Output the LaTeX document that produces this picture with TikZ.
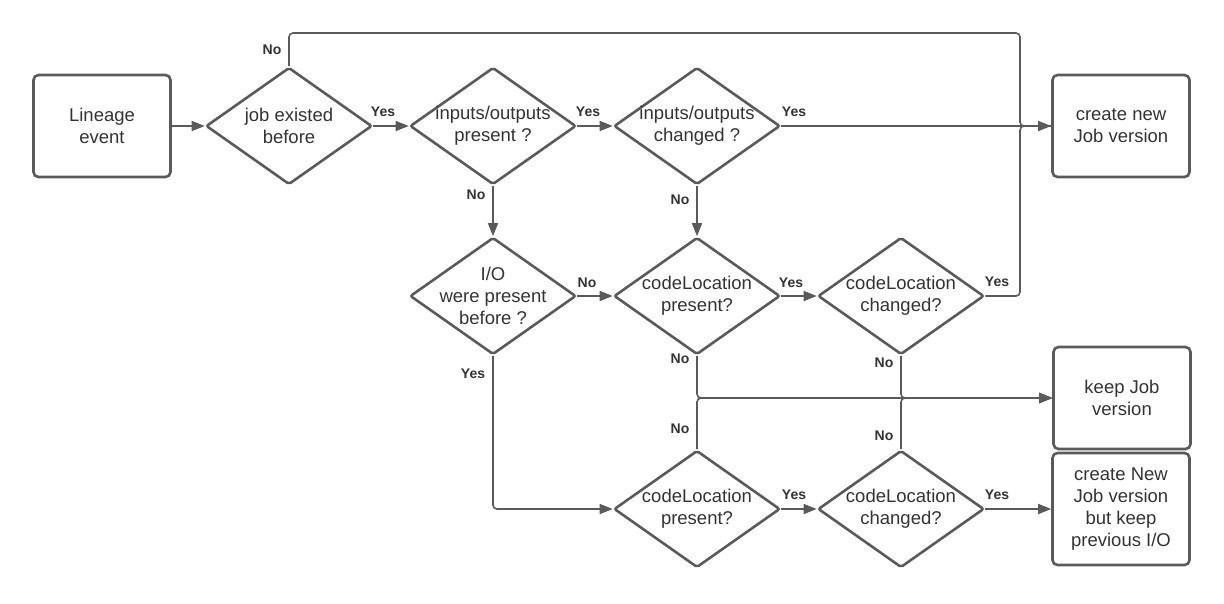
\documentclass[tikz,border=0pt]{standalone}
\usepackage{fontspec}
\setmainfont{Liberation Sans}
\usetikzlibrary{shapes.geometric,arrows.meta}
\definecolor{edge}{HTML}{5A5A5A}
\definecolor{txt}{HTML}{333333}
\begin{document}
\begin{tikzpicture}[x=1pt,y=-1pt,
  box/.style={draw=edge,line width=2.6pt,rounded corners=5pt,minimum width=137pt,minimum height=102pt,align=center,font=\fontsize{18.5}{22}\selectfont,text=txt,inner sep=0pt},
  dec/.style={diamond,draw=edge,line width=2.6pt,minimum width=166pt,minimum height=117pt,inner sep=-40pt,align=center,font=\fontsize{18.5}{22}\selectfont,text=txt,rounded corners=2pt},
  conn/.style={draw=edge,line width=1.6pt,rounded corners=4pt},
  arr/.style={conn,-{Triangle[length=13pt,width=10pt]}},
  lab/.style={font=\bfseries\fontsize{14}{16}\selectfont,text=txt,inner sep=0pt}]
\useasboundingbox (0,0) rectangle (1224,603);

\node[box] (le) at (102,126) {Lineage\\event};
\node[dec] (d1) at (289,126) {job existed\\before};
\node[dec] (d2) at (493,126) {inputs/outputs\\present ?};
\node[dec] (d3) at (697,126) {inputs/outputs\\changed ?};
\node[box] (cn) at (1121,126) {create new\\Job version};
\node[dec] (io) at (493,296) {I/O\\were present\\before ?};
\node[dec] (cp1) at (697,296) {codeLocation\\present?};
\node[dec] (cc1) at (901,296) {codeLocation\\changed?};
\node[box] (kj) at (1122,398) {keep Job\\version};
\node[dec] (cp2) at (697,509) {codeLocation\\present?};
\node[dec] (cc2) at (901,509) {codeLocation\\changed?};
\node[box,minimum height=112pt] (cnk) at (1121,509) {create New\\Job version\\but keep\\previous I/O};

\coordinate (jt) at (1020,33);
\coordinate (jn) at (1020,126);

\draw[arr] (le) -- (d1);
\draw[arr] (d1) -- (d2);
\draw[arr] (d2) -- (d3);
\draw[arr] (d3) -- (cn);
\draw[conn] (d1.north) |- (jt) -- (jn) -- (cn.west);
\draw[conn] (cc1.east) -| (jn) -- (cn.west);
\draw[arr] (d2) -- (io);
\draw[arr] (d3) -- (cp1);
\draw[arr] (io) -- (cp1);
\draw[arr] (cp1) -- (cc1);
\draw[arr] (cp1.south) |- (kj.west);
\draw[arr] (cp2.north) |- (kj.west);
\draw[arr] (cc1.south) |- (kj.west);
\draw[arr] (cc2.north) |- (kj.west);
\draw[arr] (io.south) |- (cp2.west);
\draw[arr] (cp2) -- (cc2);
\draw[arr] (cc2) -- (cnk);

\node[lab] (l1) at (272,50) {No};
\node[lab] (l2) at (383,112) {Yes};
\node[lab] (l3) at (588,112) {Yes};
\node[lab] (l4) at (794,112) {Yes};
\node[lab] (l5) at (476,195) {No};
\node[lab] (l6) at (680,200) {No};
\node[lab] (l7) at (587,283) {No};
\node[lab] (l8) at (791,283) {Yes};
\node[lab] (l9) at (997,282) {Yes};
\node[lab] (l10) at (680,359) {No};
\node[lab] (l11) at (473,374) {Yes};
\node[lab] (l12) at (884,363) {No};
\node[lab] (l13) at (680,429) {No};
\node[lab] (l14) at (884,436) {No};
\node[lab] (l15) at (794,495) {Yes};
\node[lab] (l16) at (997,495) {Yes};
\end{tikzpicture}
\end{document}
